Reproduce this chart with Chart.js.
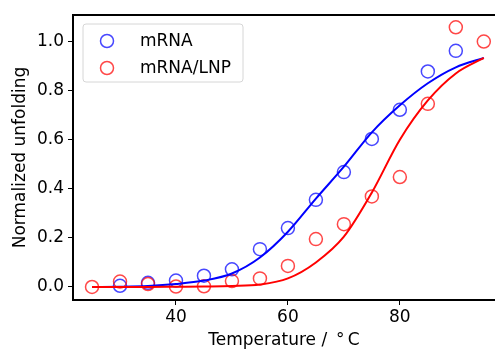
<!DOCTYPE html>
<html>
<head>
<meta charset="utf-8">
<script src="https://cdn.jsdelivr.net/npm/chart.js@4"></script>
<style>
  body { margin: 0; background: #fff; overflow: hidden; }
</style>
</head>
<body>
<canvas id="meltChart" width="495" height="351"></canvas>
<script>
// temperatures (°C)
const temps = [25, 30, 35, 40, 45, 50, 55, 60, 65, 70, 75, 80, 85, 90, 95];
// measured points (null = no visible marker)
const mrnaValues = [null, 0.005, 0.017, 0.026, 0.046, 0.072, 0.154, 0.24, 0.355, 0.468, 0.603, 0.722, 0.878, 0.962, null];
const lnpValues = [0.0, 0.022, 0.012, 0.002, 0.003, 0.024, 0.035, 0.086, 0.195, 0.256, 0.369, 0.448, 0.746, 1.058, 1.0];
// fitted curves
const mrnaFit = [0.0, 0.001, 0.004, 0.012, 0.026, 0.055, 0.12, 0.225, 0.36, 0.49, 0.63, 0.74, 0.83, 0.895, 0.933];
const lnpFit = [0.0, 0.0, 0.0, 0.001, 0.002, 0.004, 0.01, 0.035, 0.10, 0.205, 0.385, 0.60, 0.76, 0.87, 0.933];
const xTicks = [40, 60, 80];
const yTicks = [0, 0.2, 0.4, 0.6, 0.8, 1.0];

const pts = (ys) => temps.map((t, i) => ({ x: t, y: ys[i] })).filter(p => p.y !== null);
const FONT = "'DejaVu Sans', sans-serif";
const FSIZE = 17;

// legend box inside the plot, like matplotlib
const boxLegend = {
    id: "boxLegend",
    afterDraw(chart) {
        const ctx = chart.ctx;
        const items = chart.data.datasets.filter(d => d.showInLegend);
        ctx.save();
        ctx.beginPath();
        ctx.roundRect(83, 24, 160, 58, 3);
        ctx.fillStyle = "rgba(255,255,255,0.8)";
        ctx.fill();
        ctx.strokeStyle = "#d6d6d6";
        ctx.lineWidth = 1;
        ctx.stroke();
        items.forEach((d, i) => {
            const y = 41 + i * 27;
            ctx.beginPath();
            ctx.arc(107, y, 6.5, 0, Math.PI * 2);
            ctx.strokeStyle = d.borderColor;
            ctx.lineWidth = 1.5;
            ctx.stroke();
            ctx.fillStyle = "#000";
            ctx.font = FSIZE + "px " + FONT;
            ctx.textBaseline = "middle";
            ctx.fillText(d.label, 140, y + 1);
        });
        // top frame line
        const a = chart.chartArea;
        ctx.beginPath();
        ctx.moveTo(a.left - 1, a.top);
        ctx.lineTo(a.right + 1, a.top);
        ctx.strokeStyle = "#000";
        ctx.lineWidth = 2;
        ctx.stroke();
        ctx.restore();
    }
};

const ctx = document.getElementById("meltChart").getContext("2d");
new Chart(ctx, {
    type: "scatter",
    data: {
        datasets: [
            { label: "mRNA", data: pts(mrnaValues), showInLegend: true, order: 3,
              borderColor: "rgba(0,0,255,0.72)", backgroundColor: "rgba(0,0,0,0)",
              pointRadius: 6.5, borderWidth: 1.5, pointHoverRadius: 6.5 },
            { label: "mRNA/LNP", data: pts(lnpValues), showInLegend: true, order: 2,
              borderColor: "rgba(255,0,0,0.72)", backgroundColor: "rgba(0,0,0,0)",
              pointRadius: 6.5, borderWidth: 1.5, pointHoverRadius: 6.5 },
            { label: "mRNA fit", data: pts(mrnaFit), type: "line", order: 1,
              borderColor: "#0000ff", borderWidth: 2, pointRadius: 0,
              cubicInterpolationMode: "monotone", fill: false },
            { label: "mRNA/LNP fit", data: pts(lnpFit), type: "line", order: 0,
              borderColor: "#ff0000", borderWidth: 2, pointRadius: 0,
              cubicInterpolationMode: "monotone", fill: false }
        ]
    },
    options: {
        responsive: false,
        animation: false,
        layout: { autoPadding: false, padding: { top: 15, right: 0, left: 6, bottom: 0 } },
        plugins: { legend: { display: false }, tooltip: { enabled: false } },
        scales: {
            x: {
                type: "linear", min: 21.6, max: 97,
                afterBuildTicks: (s) => { s.ticks = xTicks.map(v => ({ value: v })); },
                afterFit: (s) => { s.height = 51; },
                grid: { drawOnChartArea: false, drawTicks: true, tickLength: 5, color: "#000", tickWidth: 1 },
                border: { display: true, color: "#000", width: 2 },
                ticks: { color: "#000", font: { family: FONT, size: FSIZE }, padding: 2 },
                title: { display: true, text: "Temperature / \u2009°\u2009C", color: "#000",
                         font: { family: FONT, size: FSIZE }, padding: { top: 0, bottom: 0 } }
            },
            y: {
                min: -0.053, max: 1.108,
                afterBuildTicks: (s) => { s.ticks = yTicks.map(v => ({ value: v })); },
                afterFit: (s) => { s.width = 67; },
                grid: { drawOnChartArea: false, drawTicks: true, tickLength: 5, color: "#000", tickWidth: 1 },
                border: { display: true, color: "#000", width: 2 },
                ticks: { color: "#000", font: { family: FONT, size: FSIZE }, padding: 4,
                         callback: (v) => v.toFixed(1) },
                title: { display: true, text: "Normalized unfolding", color: "#000",
                         font: { family: FONT, size: FSIZE }, padding: { top: 4, bottom: 0 } }
            }
        }
    },
    plugins: [boxLegend]
});
</script>
</body>
</html>
